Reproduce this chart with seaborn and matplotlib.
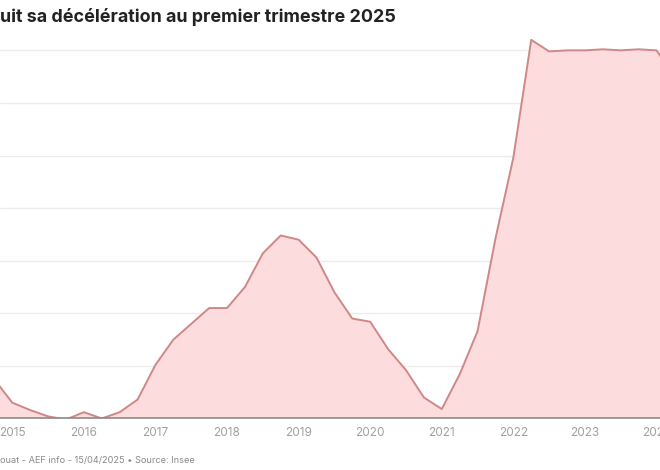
import matplotlib
matplotlib.use('Agg')
import matplotlib.pyplot as plt
import seaborn as sns
import numpy as np
import pandas as pd

# Variation annuelle de l'IRL (%), par trimestre
trimestres = ['2014-T4',
              '2015-T1', '2015-T2', '2015-T3', '2015-T4',
              '2016-T1', '2016-T2', '2016-T3', '2016-T4',
              '2017-T1', '2017-T2', '2017-T3', '2017-T4',
              '2018-T1', '2018-T2', '2018-T3', '2018-T4',
              '2019-T1', '2019-T2', '2019-T3', '2019-T4',
              '2020-T1', '2020-T2', '2020-T3', '2020-T4',
              '2021-T1', '2021-T2', '2021-T3', '2021-T4',
              '2022-T1', '2022-T2', '2022-T3', '2022-T4',
              '2023-T1', '2023-T2', '2023-T3', '2023-T4',
              '2024-T1', '2024-T2']
variation = [0.37,
             0.15, 0.08, 0.02, -0.01,
             0.06, 0.00, 0.06, 0.18,
             0.51, 0.75, 0.90, 1.05,
             1.05, 1.25, 1.57, 1.74,
             1.70, 1.53, 1.20, 0.95,
             0.92, 0.66, 0.46, 0.20,
             0.09, 0.42, 0.83, 1.71,
             2.48, 3.60, 3.49, 3.50,
             3.50, 3.51, 3.50, 3.51,
             3.50, 3.26]
annees_ticks = [2015, 2016, 2017, 2018, 2019, 2020, 2021, 2022, 2023, 2024]

titre = "uit sa décélération au premier trimestre 2025"
source = "ouat - AEF info - 15/04/2025 \u2022 Source: Insee"

df = pd.DataFrame({'trimestre': trimestres, 'irl': variation})
df['x'] = df['trimestre'].str[:4].astype(int) + (df['trimestre'].str[-1].astype(int) - 1) / 4

sns.set_theme(style='white')
plt.rcParams['font.family'] = ['Inter', 'DejaVu Sans']

fig = plt.figure(figsize=(6.6, 4.7), dpi=100)
ax = fig.add_axes([0, 0.1096, 1, 0.828])

ax.fill_between(df['x'], df['irl'], 0, color='#fcdcdc', zorder=2, lw=0)
sns.lineplot(data=df, x='x', y='irl', ax=ax, color='#cf8888', lw=1.4, zorder=3)

ax.set_xlim(2014.828, 2024.049)
ax.set_ylim(0, 3.7)
ax.set_yticks(np.arange(0, 3.6, 0.5))
ax.yaxis.grid(True, color='#ececec', lw=1)
ax.set_axisbelow(True)
ax.tick_params(axis='y', left=False, labelleft=False)
ax.set_xticks(annees_ticks)
ax.set_xticklabels([str(a) for a in annees_ticks])
ax.tick_params(axis='x', length=0, pad=6, labelsize=8.5, labelcolor='#a0a0a0')
ax.set_xlabel('')
ax.set_ylabel('')
for s in ['top', 'left', 'right']:
    ax.spines[s].set_visible(False)
ax.spines['bottom'].set_color('#8a8a8a')
ax.spines['bottom'].set_linewidth(1.2)
ax.spines['bottom'].set_zorder(4)

fig.text(0.0, 1 - 22 / 470, titre, fontsize=12.9, fontweight='bold',
         color='#222222', ha='left', va='baseline')
fig.text(0.0, 7 / 470, source, fontsize=6.6, color='#8a8a8a',
         ha='left', va='baseline')

fig.savefig('out.png', dpi=100)
